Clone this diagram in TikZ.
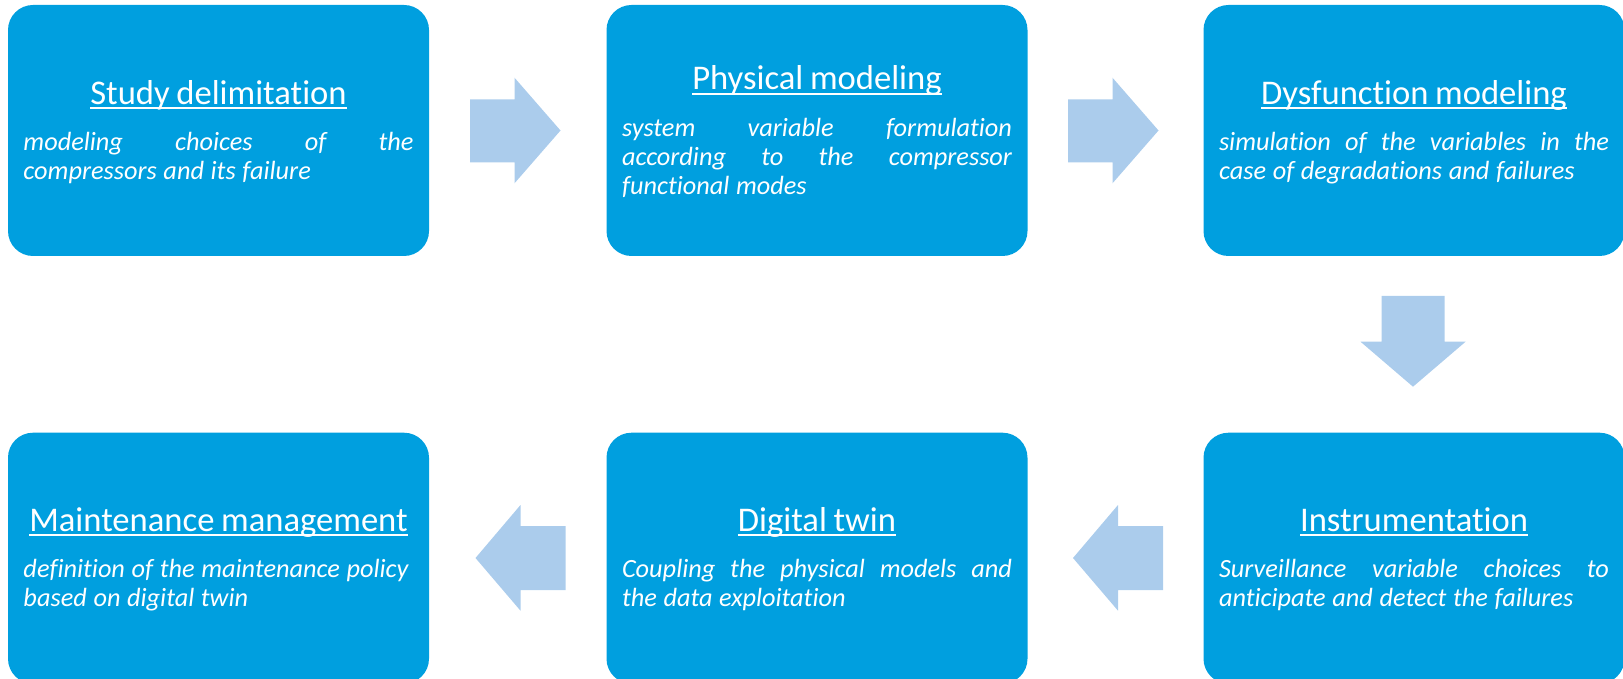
\documentclass[tikz,border=0pt]{standalone}
\usepackage{fontspec}
\setmainfont{Carlito}[Ligatures={NoCommon,NoContextual,NoRare}]
\definecolor{boxblue}{RGB}{0,159,223}
\definecolor{arrowblue}{RGB}{171,204,236}
\newcommand\myul[1]{\setbox0\hbox{#1}\rlap{\rule[-2.3pt]{\wd0}{0.85pt}}\box0}
\newcommand\ttl[1]{\makebox[\linewidth]{\fontsize{17.3}{20}\selectfont\myul{#1}}\par\vspace{8.6pt}\fontsize{13.15}{14.5}\selectfont\itshape}
\newcommand\jl[1]{\hbox to\linewidth{#1}}
\tikzset{
  box/.style={rectangle, rounded corners=12.5pt, fill=boxblue, draw=none,
    minimum width=210.5pt, minimum height=125.5pt, inner sep=0pt},
  txt/.style={anchor=base, text width=195pt, inner sep=0pt, text=white},
  blockarrow/.style={fill=arrowblue, draw=none}
}
\begin{document}
\begin{tikzpicture}[x=0.5pt,y=-0.5pt]
\useasboundingbox (0,0) rectangle (1623,679);
% boxes
\node[box] (b1) at (218.5,130.5) {};
\node[box] (b2) at (817,130.5) {};
\node[box] (b3) at (1414,130.5) {};
\node[box] (b4) at (1414,558.2) {};
\node[box] (b5) at (817,558.2) {};
\node[box] (b6) at (218.5,558.2) {};
% texts
\node[txt] (t1) at (218.5,104.3) {\ttl{Study delimitation}%
\jl{modeling\hfill choices\hfill of\hfill the}
compressors and its failure\par};
\node[txt] (t2) at (817,90) {\ttl{Physical modeling}%
\jl{system\hfill variable\hfill formulation}
\jl{according\hfill to\hfill the\hfill compressor}
functional modes\par};
\node[txt] (t3) at (1414,104.3) {\ttl{Dysfunction modeling}%
\jl{simulation\hfill of\hfill the\hfill variables\hfill in\hfill the}
case of degradations and failures\par};
\node[txt] (t4) at (1414,531.2) {\ttl{Instrumentation}%
\jl{Surveillance\hfill variable\hfill choices\hfill to}
anticipate and detect the failures\par};
\node[txt] (t5) at (817,531.2) {\ttl{Digital twin}%
\jl{Coupling\hfill the\hfill physical\hfill models\hfill and}
the data exploitation\par};
\node[txt] (t6) at (218.5,531.2) {\ttl{Maintenance management}%
definition of the maintenance policy\par
based on digital twin\par};
% block arrows
\fill[blockarrow] (470,99.4) -- (514.5,99.4) -- (514.5,77.7) -- (560.5,130.5) -- (514.5,183.3) -- (514.5,162.4) -- (470,162.4) -- cycle;
\fill[blockarrow] (1068,99.4) -- (1112.5,99.4) -- (1112.5,77.7) -- (1158.5,130.5) -- (1112.5,183.3) -- (1112.5,162.4) -- (1068,162.4) -- cycle;
\fill[blockarrow] (1381.5,296) -- (1444.5,296) -- (1444.5,341.7) -- (1465.6,341.7) -- (1413,386.7) -- (1360.5,341.7) -- (1381.5,341.7) -- cycle;
\fill[blockarrow] (1163,526) -- (1118,526) -- (1118,505) -- (1073,558) -- (1118,610.7) -- (1118,590) -- (1163,590) -- cycle;
\fill[blockarrow] (565.5,526) -- (520.5,526) -- (520.5,505) -- (475.5,558) -- (520.5,610.7) -- (520.5,590) -- (565.5,590) -- cycle;
\end{tikzpicture}
\end{document}
